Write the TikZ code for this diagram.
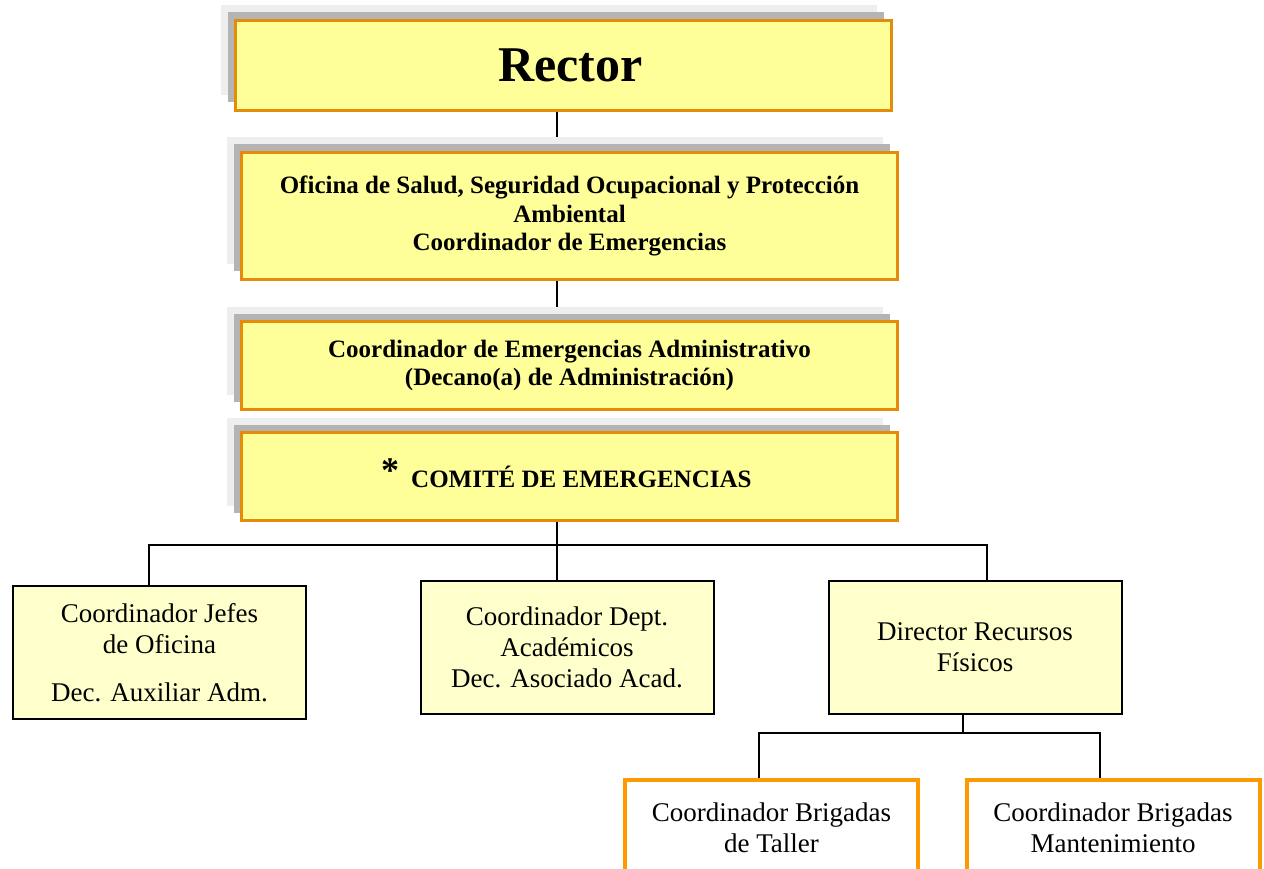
\documentclass[tikz,border=0pt]{standalone}
\usepackage{fontspec}
\setmainfont{Liberation Serif}
\definecolor{boardyellow}{RGB}{255,255,153}
\definecolor{boardline}{RGB}{228,140,10}
\definecolor{unitfill}{RGB}{255,255,204}
\definecolor{brigorange}{RGB}{255,153,0}
\definecolor{shadowdark}{RGB}{180,180,180}
\definecolor{shadowlight}{RGB}{238,238,238}
\usetikzlibrary{shadows, backgrounds}

\begin{document}
\begin{tikzpicture}[x=1pt, y=-1pt,
  topbox/.style={draw=boardline, line width=3pt, fill=boardyellow, align=center, minimum width=656pt, inner sep=0pt,
    drop shadow={shadow xshift=-15pt, shadow yshift=15pt, fill=shadowlight, opacity=1},
    drop shadow={shadow xshift=-8pt, shadow yshift=8pt, fill=shadowdark, opacity=1},
    font=\bfseries\fontsize{25}{28.5}\selectfont},
  unitbox/.style={draw=black, line width=2pt, fill=unitfill, align=center, minimum width=293pt, minimum height=133pt,
    inner sep=0pt, font=\fontsize{27}{31}\selectfont},
  brigbox/.style={draw=brigorange, line width=4pt, fill=white, align=center, minimum width=293pt, minimum height=96pt,
    inner sep=0pt, font=\fontsize{27}{31}\selectfont},
  link/.style={draw=black, line width=2pt}
]
  \useasboundingbox (0,0) rectangle (1264,869);

  % upper chain
  \node[topbox, minimum height=90pt, font=\bfseries\fontsize{50}{56}\selectfont] (rector) at (563.5,65.5) {\hspace*{14pt}Rector};
  \node[topbox, minimum height=127pt] (office) at (569.5,216) {
    Oficina de Salud, Seguridad Ocupacional y Protección\\
    Ambiental\\
    Coordinador de Emergencias
  };
  \node[topbox, minimum height=88pt] (admin) at (569.5,365.5) {
    Coordinador de Emergencias Administrativo\\
    (Decano(a) de Administración)
  };
  \node[topbox, minimum height=88pt] (comite) at (569.5,476.5) {
    \smash{\fontsize{36}{36}\selectfont\raisebox{5pt}{*}}\hspace{12pt}COMITÉ DE EMERGENCIAS
  };

  % second level
  \node[unitbox] (jefes) at (159.5,652.5) {
    Coordinador Jefes\\
    de Oficina\\[17pt]
    Dec. Auxiliar Adm.
  };
  \node[unitbox] (dept) at (567,647.5) {
    Coordinador Dept.\\
    Académicos\\
    Dec. Asociado Acad.
  };
  \node[unitbox] (director) at (975,647.5) {
    Director Recursos\\
    Físicos
  };

  % brigades
  \node[brigbox] (taller) at (771.5,828) {
    Coordinador Brigadas\\
    de Taller
  };
  \node[brigbox] (mante) at (1113,828) {
    Coordinador Brigadas\\
    Mantenimiento
  };

  \coordinate (spine) at (557,0);
  \coordinate (tapA) at (149,545);
  \coordinate (tapC) at (987,545);
  \coordinate (tapD) at (963,733);
  \coordinate (tapE) at (759,733);
  \coordinate (tapF) at (1100,733);

  \begin{scope}[on background layer]
    \draw[link] (rector.south -| spine) -- (office.north -| spine);
    \draw[link] (office.south -| spine) -- (admin.north -| spine);
    \draw[link] (comite.south -| spine) -- (dept.north -| spine);
    \draw[link] (jefes.north -| tapA) -- (tapA) -- (tapC) -- (director.north -| tapC);
    \draw[link] (director.south -| tapD) -- (tapD);
    \draw[link] (taller.north -| tapE) -- (tapE) -- (tapF) -- (mante.north -| tapF);
  \end{scope}
\end{tikzpicture}
\end{document}
